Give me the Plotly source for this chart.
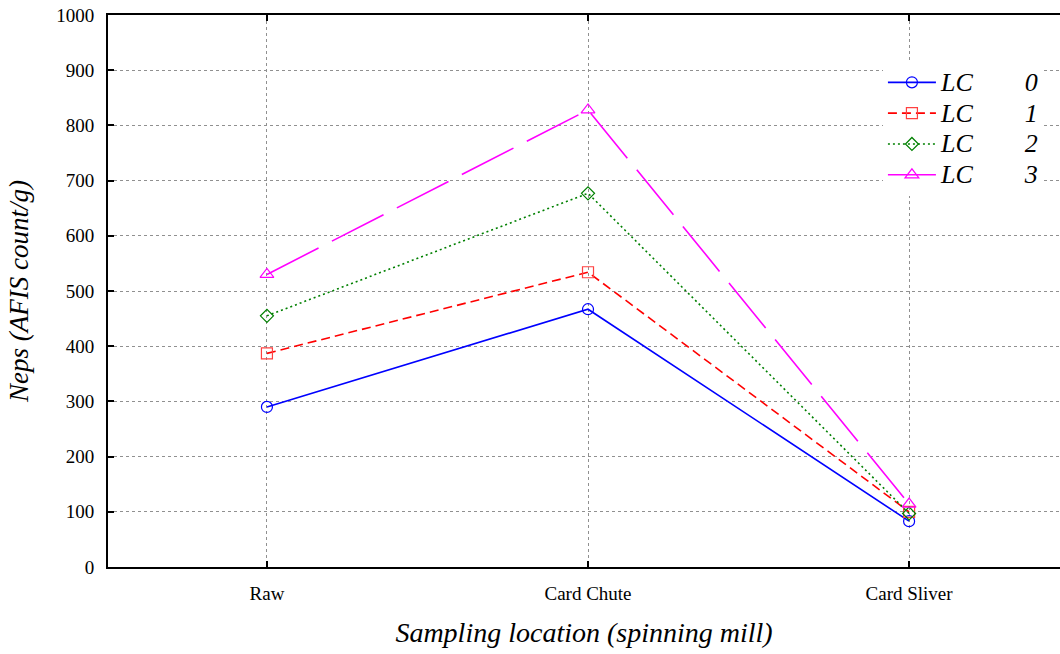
import plotly.graph_objects as go

categories = ["Raw", "Card Chute", "Card Sliver"]
series_names = ["0", "1", "2", "3"]
lc0 = [290, 467, 83]
lc1 = [387, 534, 100]
lc2 = [455, 677, 97]
lc3 = [530, 828, 114]
y_ticks = [0, 100, 200, 300, 400, 500, 600, 700, 800, 900, 1000]

values = [lc0, lc1, lc2, lc3]
colors = ["#0000ff", "#ff0000", "#008000", "#ff00ff"]
marker_colors = ["#0000ff", "#ff4040", "#008000", "#ff00ff"]
dashes = ["solid", "9px,5px", "2px,3px", "58px,15px"]
symbols = ["circle-open", "square-open", "diamond-open", "triangle-up-open"]
msizes = [11, 11, 10, 12]

FONT = "Liberation Serif, Times New Roman, serif"

fig = go.Figure()
for name, vals, c, mc, d, s, ms in zip(series_names, values, colors, marker_colors, dashes, symbols, msizes):
    fig.add_trace(go.Scatter(
        x=categories, y=vals, mode="lines+markers",
        name='<span style="font-size:26px">LC' + "\u00a0" * 8 + name + "</span>",
        line=dict(color=c, width=1.6, dash=d),
        marker=dict(symbol=s, size=ms, color=mc, line=dict(width=1.2, color=mc)),
    ))

fig.update_layout(
    width=1060, height=654,
    margin=dict(l=108, r=0, t=15, b=87),
    paper_bgcolor="white", plot_bgcolor="white",
    font=dict(family=FONT, color="black", size=19),
    showlegend=True,
    legend=dict(
        x=0.814, y=0.915, xanchor="left", yanchor="top",
        bgcolor="rgba(255,255,255,1)",
        font=dict(family=FONT, size=21.4, style="italic"),
        tracegroupgap=0, itemwidth=48,
    ),
)
fig.update_xaxes(
    type="category", range=[-0.495, 2.47],
    showline=True, linecolor="black", linewidth=2, mirror="ticks",
    ticks="inside", ticklen=6, tickcolor="black", tickwidth=2,
    showgrid=True, gridcolor="#909090", griddash="dot", gridwidth=1,
    tickfont=dict(family=FONT, size=19),
    title=dict(text="Sampling location (spinning mill)",
               font=dict(family=FONT, size=28, style="italic"), standoff=20),
    ticklabelstandoff=8,
)
fig.update_yaxes(
    range=[0, 1000], tickvals=y_ticks,
    showline=True, linecolor="black", linewidth=2, mirror=False,
    ticks="inside", ticklen=6, tickcolor="black", tickwidth=2,
    showgrid=True, gridcolor="#909090", griddash="dot", gridwidth=1,
    zeroline=False,
    tickfont=dict(family=FONT, size=19),
    title=dict(text="Neps (AFIS count/g)",
               font=dict(family=FONT, size=27, style="italic"), standoff=20),
    ticklabelstandoff=8,
)

fig.write_html("out.html")
